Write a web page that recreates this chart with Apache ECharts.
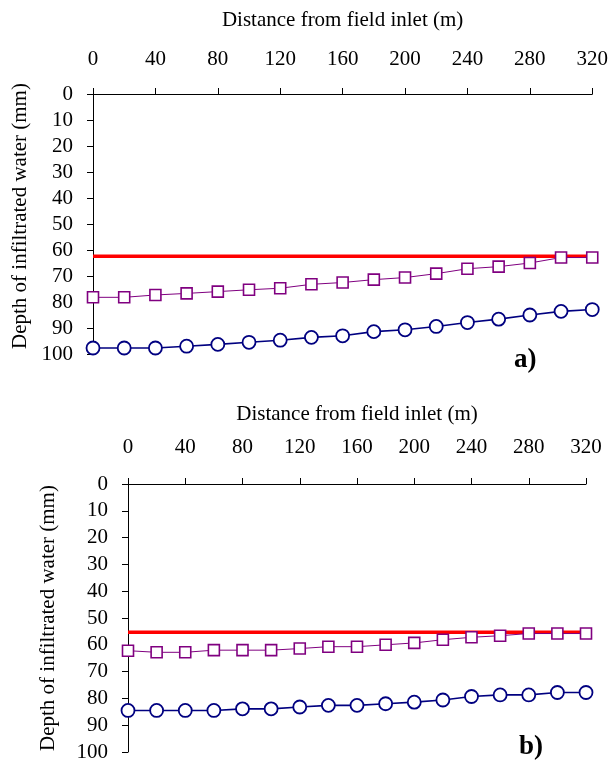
<!DOCTYPE html>
<html>
<head>
<meta charset="utf-8">
<script src="https://cdn.jsdelivr.net/npm/echarts@6/dist/echarts.min.js"></script>
<style>
html,body{margin:0;padding:0;background:#fff;}
#c{width:611px;height:765px;}
</style>
</head>
<body>
<div id="c"></div>
<script>
const distance = [0,20,40,60,80,100,120,140,160,180,200,220,240,260,280,300,320];
const xTicks = [0,40,80,120,160,200,240,280,320];
const yTicks = [0,10,20,30,40,50,60,70,80,90,100];

const aSquare = [78.2,78.2,77.3,76.7,76.0,75.3,74.7,73.2,72.5,71.4,70.6,69.1,67.2,66.4,65.0,62.9,62.9];
const aCircle = [97.7,97.7,97.7,97.0,96.3,95.5,94.7,93.6,93.0,91.4,90.7,89.4,87.9,86.6,85.0,83.6,82.9];
const aRed = 62.4;

const bSquare = [62.2,62.8,62.8,62.0,62.0,62.0,61.4,60.7,60.7,60.0,59.3,58.1,57.2,56.6,55.8,55.8,55.8];
const bCircle = [84.5,84.5,84.5,84.5,83.9,83.9,83.2,82.6,82.6,82.0,81.4,80.6,79.3,78.7,78.7,77.8,77.8];
const bRed = 55.3;

const xName = 'Distance from field inlet (m)';
const yName = 'Depth of infiltrated water (mm)';
const FONT = '"Liberation Serif", "Times New Roman", serif';

function pairs(xs, ys){ return xs.map((x,i)=>[x, ys[i]]); }

function xAxisFor(idx, nameGap, labelMargin){
  return {
    gridIndex: idx, type:'value', position:'top', min: xTicks[0], max: xTicks[xTicks.length-1], interval: 40,
    name: xName, nameLocation:'middle', nameGap: nameGap,
    nameTextStyle:{fontFamily:FONT, fontSize:21, color:'#000'},
    axisLine:{show:true, onZero:false, lineStyle:{color:'#000', width:1}},
    axisTick:{show:true, inside:false, length:6, lineStyle:{color:'#000'}},
    axisLabel:{fontFamily:FONT, fontSize:21, color:'#000', margin: labelMargin},
    splitLine:{show:false}
  };
}
function yAxisFor(idx, nameGap, padBottom){
  return {
    gridIndex: idx, type:'value', inverse:true, min: yTicks[0], max: yTicks[yTicks.length-1], interval: 10,
    name: yName, nameLocation:'middle', nameGap: nameGap, nameRotate: 90,
    nameTextStyle:{fontFamily:FONT, fontSize:21, color:'#000', padding:[0,0,0,padBottom]},
    axisLine:{show:true, onZero:false, lineStyle:{color:'#000', width:1}},
    axisTick:{show:true, inside:false, length:6, lineStyle:{color:'#000'}},
    axisLabel:{fontFamily:FONT, fontSize:21, color:'#000', margin: 20},
    splitLine:{show:false}
  };
}
function seriesFor(idx, sq, ci, red){
  return [
    {type:'line', xAxisIndex:idx, yAxisIndex:idx, data:[[xTicks[0], red],[xTicks[xTicks.length-1], red]],
     showSymbol:false, symbol:'none', lineStyle:{color:'#ff0000', width:3.5}, z:2, silent:true, animation:false},
    {type:'line', xAxisIndex:idx, yAxisIndex:idx, data:pairs(distance, sq),
     symbol:'rect', symbolSize:11, lineStyle:{color:'#800080', width:1},
     itemStyle:{color:'#fff', borderColor:'#800080', borderWidth:1.6}, z:3, animation:false},
    {type:'line', xAxisIndex:idx, yAxisIndex:idx, data:pairs(distance, ci),
     symbol:'circle', symbolSize:13, lineStyle:{color:'#000080', width:1.6},
     itemStyle:{color:'#fff', borderColor:'#000080', borderWidth:1.8}, z:4, animation:false}
  ];
}

const chart = echarts.init(document.getElementById('c'), null, {renderer:'canvas'});
chart.setOption({
  backgroundColor:'#fff',
  animation:false,
  title:[
    {text:'a)', left:509, top:342, textStyle:{fontFamily:FONT, fontSize:27, fontWeight:'bold', color:'#000'}},
    {text:'b)', left:514, top:729, textStyle:{fontFamily:FONT, fontSize:27, fontWeight:'bold', color:'#000'}}
  ],
  grid:[
    {left:93, top:94, width:504, height:260, containLabel:false},
    {left:128, top:484, width:458, height:268, containLabel:false}
  ],
  xAxis:[ xAxisFor(0, 63, 24), xAxisFor(1, 59, 26) ],
  yAxis:[ yAxisFor(0, 55, 16), yAxisFor(1, 69, 0) ],
  series:[].concat(seriesFor(0, aSquare, aCircle, aRed), seriesFor(1, bSquare, bCircle, bRed))
});
</script>
</body>
</html>
